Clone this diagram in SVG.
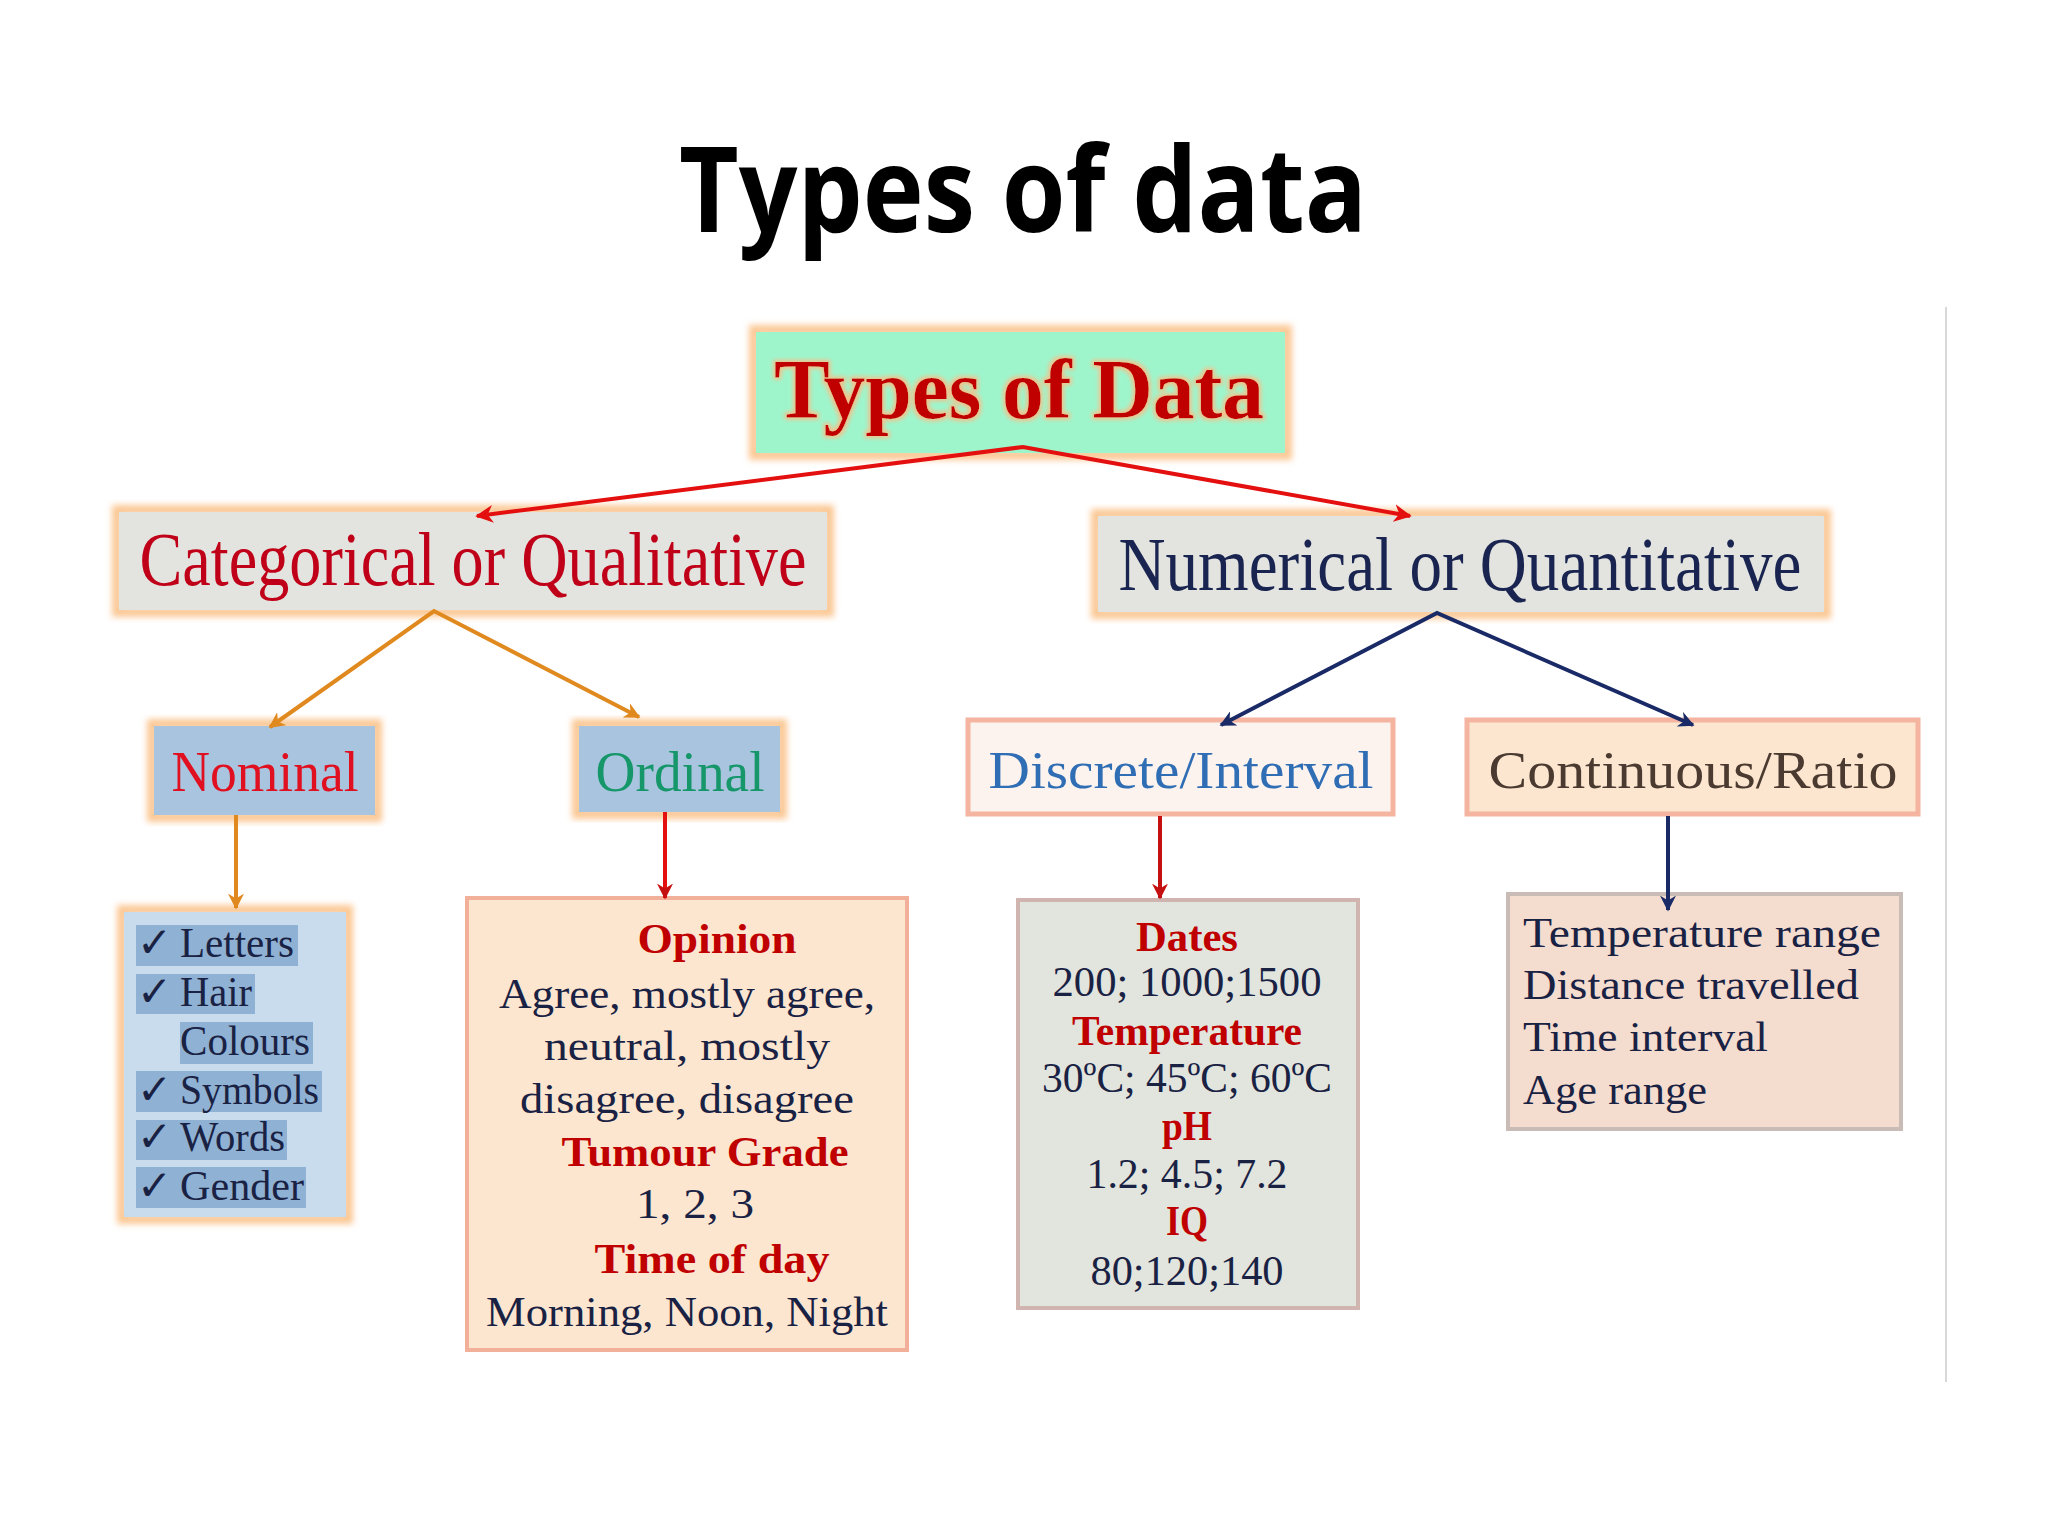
<svg xmlns="http://www.w3.org/2000/svg" width="2048" height="1536" viewBox="0 0 2048 1536">
<style>
.title{font-family:"Open Sans","Liberation Sans",sans-serif;font-weight:700;font-size:118px;fill:#000}
.serif{font-family:"Liberation Serif","DejaVu Serif",serif}
.b{font-weight:700}
.h1{font-size:76px}
.h2{font-size:56px}
.h3{font-size:52px}
.t{font-size:42px;fill:#1a2244}
.tb{font-size:42px;font-weight:700;fill:#c00000}
.glowO{fill:none;stroke:#fbc894;stroke-width:10;filter:url(#blur)}
.conn{fill:none;stroke-width:4}
</style>
<defs>
<filter id="blur" x="-10%" y="-10%" width="120%" height="120%"><feGaussianBlur stdDeviation="3"/></filter>
<filter id="tglow" x="-5%" y="-20%" width="110%" height="140%">
<feMorphology in="SourceAlpha" operator="dilate" radius="2" result="d"/>
<feGaussianBlur in="d" stdDeviation="2" result="g"/>
<feFlood flood-color="#f5c08a"/><feComposite in2="g" operator="in" result="gl"/>
<feMerge><feMergeNode in="gl"/><feMergeNode in="SourceGraphic"/></feMerge>
</filter>
<marker id="aRed" viewBox="0 0 10 10" refX="9" refY="5" markerWidth="4.5" markerHeight="4.5" orient="auto-start-reverse"><path d="M0,0 L10,5 L0,10 L3,5 z" fill="#e41010"/></marker>
<marker id="aOr" viewBox="0 0 10 10" refX="9" refY="5" markerWidth="4" markerHeight="4" orient="auto-start-reverse"><path d="M0,0 L10,5 L0,10 L3,5 z" fill="#e0891e"/></marker>
<marker id="aNv" viewBox="0 0 10 10" refX="9" refY="5" markerWidth="4" markerHeight="4" orient="auto-start-reverse"><path d="M0,0 L10,5 L0,10 L3,5 z" fill="#1a2a66"/></marker>
<marker id="aDr" viewBox="0 0 10 10" refX="9" refY="5" markerWidth="4" markerHeight="4" orient="auto-start-reverse"><path d="M0,0 L10,5 L0,10 L3,5 z" fill="#c41010"/></marker>
</defs>
<rect width="2048" height="1536" fill="#fff"/>
<text class="title" x="1023" y="232" text-anchor="middle" textLength="688" lengthAdjust="spacingAndGlyphs">Types of data</text>
<line x1="1946" y1="307" x2="1946" y2="1382" stroke="#d8d8d8" stroke-width="2"/>

<g id="root">
<rect class="glowO" x="754" y="330" width="533" height="125"/>
<rect x="756" y="332" width="529" height="121" fill="#9ef5cc"/>
<text class="serif b" x="1019" y="418" text-anchor="middle" font-size="84" fill="#c00000" filter="url(#tglow)" textLength="490" lengthAdjust="spacingAndGlyphs">Types of Data</text>
</g>

<g id="categorical">
<rect class="glowO" x="117" y="510" width="712" height="102"/>
<rect x="119" y="512" width="708" height="98" fill="#e3e4df"/>
<text class="serif h1" x="473" y="585" text-anchor="middle" fill="#c00018" textLength="667" lengthAdjust="spacingAndGlyphs">Categorical or Qualitative</text>
</g>

<g id="numerical">
<rect class="glowO" x="1096" y="514" width="730" height="100"/>
<rect x="1098" y="516" width="726" height="96" fill="#e3e4df"/>
<text class="serif h1" x="1460" y="590" text-anchor="middle" fill="#1a2450" textLength="683" lengthAdjust="spacingAndGlyphs">Numerical or Quantitative</text>
</g>

<g id="nominal">
<rect class="glowO" x="152" y="724" width="225" height="93"/>
<rect x="154" y="726" width="221" height="89" fill="#a9c4df"/>
<text class="serif h2" x="265" y="791" text-anchor="middle" fill="#e01020" textLength="187" lengthAdjust="spacingAndGlyphs">Nominal</text>
</g>

<g id="ordinal">
<rect class="glowO" x="577" y="724" width="205" height="90"/>
<rect x="579" y="726" width="201" height="86" fill="#a9c4df"/>
<text class="serif h2" x="680" y="791" text-anchor="middle" fill="#16976a" textLength="169" lengthAdjust="spacingAndGlyphs">Ordinal</text>
</g>

<g id="discrete">
<rect x="968" y="720" width="425" height="94" fill="#fdf3ee" stroke="#f4b4a0" stroke-width="5"/>
<text class="serif h3" x="1181" y="788" text-anchor="middle" fill="#2f6db4" textLength="385" lengthAdjust="spacingAndGlyphs">Discrete/Interval</text>
</g>

<g id="continuous">
<rect x="1467" y="720" width="451" height="94" fill="#fce6d0" stroke="#f4b4a0" stroke-width="5"/>
<text class="serif h3" x="1693" y="788" text-anchor="middle" fill="#4a3a30" textLength="409" lengthAdjust="spacingAndGlyphs">Continuous/Ratio</text>
</g>

<g id="nominal-list">
<rect class="glowO" x="122" y="910" width="226" height="309"/>
<rect x="124" y="912" width="222" height="305" fill="#c9dcee"/>
<g fill="#8fb1d3">
<rect x="136" y="925" width="162" height="41"/>
<rect x="136" y="974" width="119" height="40"/>
<rect x="180" y="1022" width="133" height="42"/>
<rect x="136" y="1071" width="186" height="41"/>
<rect x="136" y="1120" width="151" height="40"/>
<rect x="136" y="1167" width="170" height="41"/>
</g>
<g class="serif t" font-size="41">
<text x="137" y="957">✓</text><text x="180" y="957" textLength="114" lengthAdjust="spacingAndGlyphs">Letters</text>
<text x="137" y="1006">✓</text><text x="180" y="1006" textLength="72" lengthAdjust="spacingAndGlyphs">Hair</text>
<text x="180" y="1055" textLength="130" lengthAdjust="spacingAndGlyphs">Colours</text>
<text x="137" y="1104">✓</text><text x="180" y="1104" textLength="139" lengthAdjust="spacingAndGlyphs">Symbols</text>
<text x="137" y="1151">✓</text><text x="180" y="1151" textLength="105" lengthAdjust="spacingAndGlyphs">Words</text>
<text x="137" y="1200">✓</text><text x="180" y="1200" textLength="124" lengthAdjust="spacingAndGlyphs">Gender</text>
</g>
</g>

<g id="ordinal-examples">
<rect x="467" y="898" width="440" height="452" fill="#fce6d0" stroke="#f2b09a" stroke-width="4"/>
<g class="serif" text-anchor="middle">
<text class="tb" x="717" y="953" textLength="159" lengthAdjust="spacingAndGlyphs">Opinion</text>
<text class="t" x="687" y="1008" textLength="376" lengthAdjust="spacingAndGlyphs">Agree, mostly agree,</text>
<text class="t" x="687" y="1060" textLength="286" lengthAdjust="spacingAndGlyphs">neutral, mostly</text>
<text class="t" x="687" y="1113" textLength="334" lengthAdjust="spacingAndGlyphs">disagree, disagree</text>
<text class="tb" x="705" y="1166" textLength="287" lengthAdjust="spacingAndGlyphs">Tumour Grade</text>
<text class="t" x="695" y="1218" textLength="118" lengthAdjust="spacingAndGlyphs">1, 2, 3</text>
<text class="tb" x="712" y="1273" textLength="235" lengthAdjust="spacingAndGlyphs">Time of day</text>
<text class="t" x="687" y="1326" textLength="402" lengthAdjust="spacingAndGlyphs">Morning, Noon, Night</text>
</g>
</g>

<g id="discrete-examples">
<rect x="1018" y="900" width="340" height="408" fill="#e2e5de" stroke="#cfb4b0" stroke-width="4"/>
<g class="serif" text-anchor="middle">
<text class="tb" x="1187" y="951" textLength="102" lengthAdjust="spacingAndGlyphs">Dates</text>
<text class="t" x="1187" y="996" textLength="269" lengthAdjust="spacingAndGlyphs">200; 1000;1500</text>
<text class="tb" x="1187" y="1045" textLength="230" lengthAdjust="spacingAndGlyphs">Temperature</text>
<text class="t" x="1187" y="1092" textLength="290" lengthAdjust="spacingAndGlyphs">30ºC; 45ºC; 60ºC</text>
<text class="tb" x="1187" y="1140" textLength="50" lengthAdjust="spacingAndGlyphs">pH</text>
<text class="t" x="1187" y="1188" textLength="201" lengthAdjust="spacingAndGlyphs">1.2; 4.5; 7.2</text>
<text class="tb" x="1187" y="1235" textLength="42" lengthAdjust="spacingAndGlyphs">IQ</text>
<text class="t" x="1187" y="1285" textLength="193" lengthAdjust="spacingAndGlyphs">80;120;140</text>
</g>
</g>

<g id="continuous-examples">
<rect x="1508" y="894" width="393" height="235" fill="#f4dccf" stroke="#c9bcb6" stroke-width="4"/>
<g class="serif t">
<text x="1523" y="947" textLength="358" lengthAdjust="spacingAndGlyphs">Temperature range</text>
<text x="1523" y="999" textLength="336" lengthAdjust="spacingAndGlyphs">Distance travelled</text>
<text x="1523" y="1051" textLength="245" lengthAdjust="spacingAndGlyphs">Time interval</text>
<text x="1523" y="1104" textLength="184" lengthAdjust="spacingAndGlyphs">Age range</text>
</g>
</g>

<g id="connectors">
<polyline class="conn" points="477,516 1023,447 1410,516" stroke="#e41010" stroke-width="6" marker-start="url(#aRed)" marker-end="url(#aRed)"/>
<polyline class="conn" points="270,727 434,611 639,717" stroke="#e0891e" marker-start="url(#aOr)" marker-end="url(#aOr)"/>
<polyline class="conn" points="1221,725 1437,613 1693,725" stroke="#1a2a66" marker-start="url(#aNv)" marker-end="url(#aNv)"/>
<line class="conn" x1="236" y1="815" x2="236" y2="908" stroke="#e0891e" marker-end="url(#aOr)"/>
<line class="conn" x1="665" y1="812" x2="665" y2="898" stroke="#e41010" marker-end="url(#aDr)"/>
<line class="conn" x1="1160" y1="816" x2="1160" y2="898" stroke="#c41010" marker-end="url(#aDr)"/>
<line class="conn" x1="1668" y1="816" x2="1668" y2="910" stroke="#1a2a66" marker-end="url(#aNv)"/>
</g>
</svg>
